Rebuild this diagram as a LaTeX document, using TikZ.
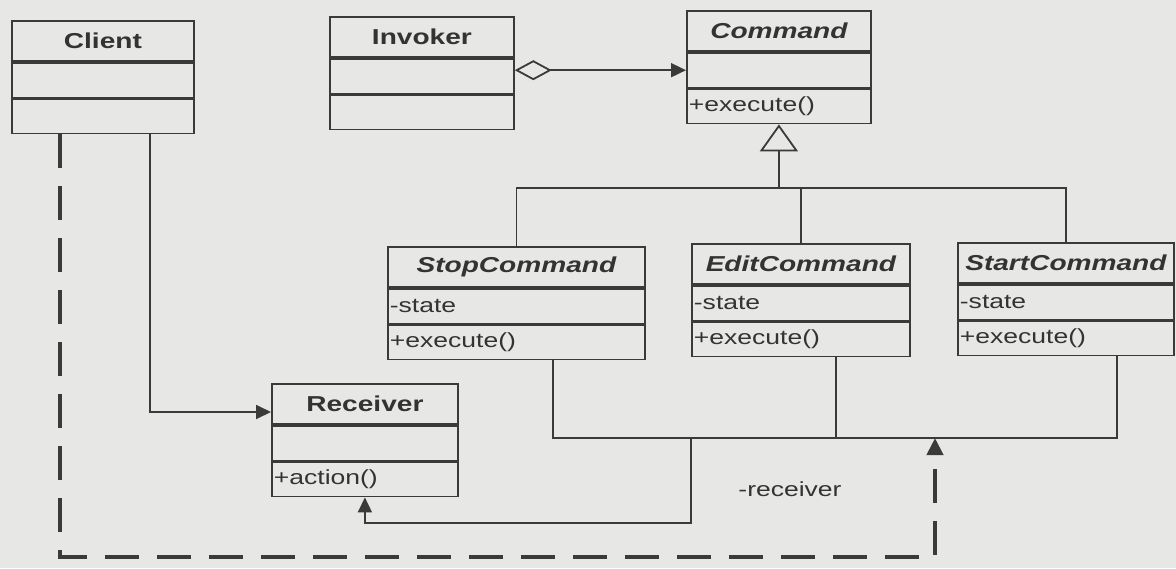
\documentclass[tikz,border=0pt]{standalone}
\usepackage{fontspec}
\usepackage{tikz}
\usetikzlibrary{arrows.meta,positioning}
\newfontfamily\umlfont[FakeStretch=1.3]{Liberation Sans}
\definecolor{cBg}{HTML}{E7E7E5}
\definecolor{cLn}{HTML}{3A3A3A}
\definecolor{cTx}{HTML}{333333}
\tikzset{
  clshead/.style={draw=cLn,line width=0.9pt,minimum height=20pt,inner sep=0pt,
    font=\umlfont\fontsize{10.8}{12}\selectfont\bfseries,text=cTx},
  abstract/.style={font=\umlfont\fontsize{10.8}{12}\selectfont\bfseries\itshape},
  clspart/.style={draw=cLn,line width=0.9pt,inner xsep=1pt,inner ysep=0pt,align=left,
    font=\umlfont\fontsize{10.2}{12}\selectfont,text=cTx},
  lbl/.style={font=\umlfont\fontsize{10.2}{12}\selectfont,text=cTx},
  link/.style={draw=cLn,line width=0.9pt},
  assoc/.style={link,-{Triangle[length=7.5pt,width=7pt]}},
  aggr/.style={link,{Diamond[open,length=18.5pt,width=10pt]}-{Triangle[length=7.5pt,width=7pt]}},
  inherit/.style={link,-{Triangle[open,length=13.5pt,width=19pt]}},
  depend/.style={draw=cLn,line width=2pt,dash pattern=on 17pt off 9pt,
    -{Triangle[length=8.5pt,width=8pt]}},
}
% name, north-west corner, width, title, attribute, operation
\newcommand{\umlclass}[7][]{%
  \node[clshead,#1,minimum width=#4,anchor=north west] (#2) at (#3) {#5};
  \node[clspart,minimum width=#4,text width=#4-2pt,minimum height=17.5pt,below=0pt of #2] (#2-a) {#6};
  \node[clspart,minimum width=#4,text width=#4-2pt,minimum height=17pt,below=0pt of #2-a] (#2-o) {#7};}

\begin{document}
\begin{tikzpicture}[x=0.5pt,y=-0.5pt]
\path[use as bounding box,fill=cBg] (0,0) rectangle (1176,568);

% classes
\umlclass{client}{11,20}{91pt}{Client}{}{}
\umlclass{invoker}{329,16}{92pt}{Invoker}{}{}
\umlclass[abstract]{command}{686,10}{92pt}{Command}{}{+execute()}
\umlclass[abstract]{stop}{387,246}{128.5pt}{StopCommand}{-state}{+execute()}
\umlclass[abstract]{edit}{691,243}{109pt}{EditCommand}{-state}{+execute()}
\umlclass[abstract]{start}{957,242}{108pt}{StartCommand}{-state}{+execute()}
\umlclass{receiver}{271,383}{93pt}{Receiver}{}{+action()}

% helper points
\coordinate (bus) at (0,188);
\coordinate (lb1) at (553,438);
\coordinate (lb2) at (836,438);
\coordinate (lb3) at (1117,438);
\coordinate (rcv) at (691,523);
\coordinate (cr) at (150,412);
\coordinate (dl) at (60,557);
\coordinate (dr) at (935,557);

% invoker holds command
\draw[aggr] (invoker-a.east |- command-a.west) -- (command-a.west);

% generalisation
\draw[link] (stop.north) |- (start.north |- bus) -- (start.north);
\draw[link] (edit.north) -- (edit.north |- bus);
\draw[inherit] (command-o.south |- bus) -- (command-o.south);

% receiver association
\draw[link] (lb1 |- stop-o.south) -- (lb1) -- (lb3) -- (lb3 |- start-o.south);
\draw[link] (lb2 |- edit-o.south) -- (lb2);
\draw[assoc] (rcv |- lb1) -- (rcv) -| (receiver-o.south);
\node[lbl] (rcvlabel) at (790,489) {-receiver};

% client
\draw[assoc] (cr |- client-o.south) -- (cr) -- (cr -| receiver.west);
\draw[depend] (dl |- client-o.south) -- (dl) -- (dr) -- (dr |- lb1);
\end{tikzpicture}
\end{document}
